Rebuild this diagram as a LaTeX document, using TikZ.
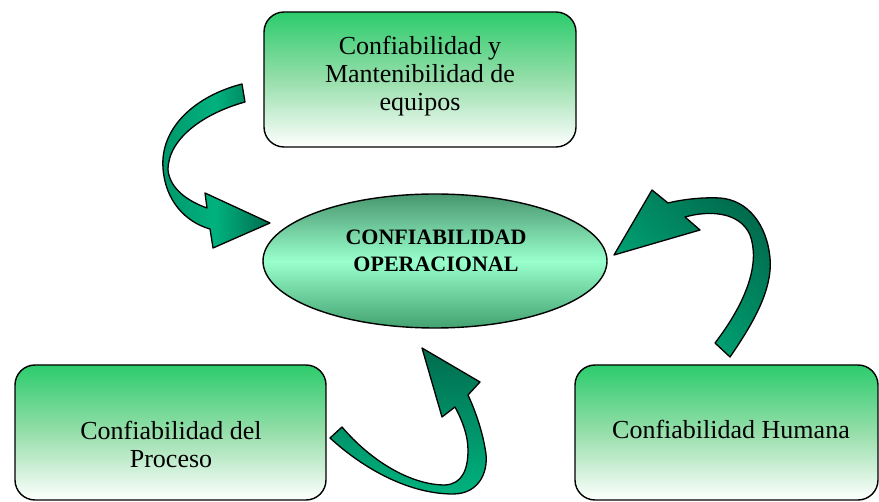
\documentclass[tikz,border=0pt]{standalone}
\usepackage{fontspec}
\setmainfont{Liberation Serif}
\usetikzlibrary{shapes.geometric}
\definecolor{boxgreen}{RGB}{44,204,108}
\definecolor{boxmid}{RGB}{150,222,170}
\definecolor{elltop}{RGB}{72,150,110}
\definecolor{ellbot}{RGB}{66,162,112}
\definecolor{ellmid}{RGB}{153,255,204}
\definecolor{arrlight}{RGB}{0,178,126}
\definecolor{arrmid}{RGB}{0,150,106}
\definecolor{arrdark}{RGB}{0,108,78}
\begin{document}
\begin{tikzpicture}[x=1pt,y=-1pt,
  box/.style={draw=black, line width=1.4pt, rounded corners=20pt,
    top color=boxgreen, bottom color=white, middle color=boxmid, inner sep=0pt},
  lbl/.style={align=center, font=\fontsize{26}{28}\selectfont, inner sep=0pt},
  blockarrow/.style={draw=black, line width=1.3pt, line join=round}]
\useasboundingbox (0,0) rectangle (879,502);

% boxes
\node[box, minimum width=312pt, minimum height=135pt] (tb) at (420,79.5) {};
\node[box, minimum width=311pt, minimum height=135pt] (bl) at (170.5,432.5) {};
\node[box, minimum width=303pt, minimum height=135pt] (br) at (726.5,432.5) {};

% central ellipse
\node[ellipse, draw=black, line width=1.4pt, inner sep=0pt,
  minimum width=344pt, minimum height=134pt,
  top color=elltop, bottom color=ellbot, middle color=ellmid] (co) at (435,261) {};

% texts
\node[lbl] (tbt) at (420,75.7) {Confiabilidad y\\Mantenibilidad de\\equipos};
\node[lbl] (blt) at (171,444.5) {Confiabilidad del\\Proceso};
\node[lbl] (brt) at (731,429) {Confiabilidad Humana};
\node[align=center, inner sep=0pt, font=\fontsize{22}{27}\selectfont\bfseries] (cot)
  at (436,251) {CONFIABILIDAD\\OPERACIONAL};

% block arrow 1 (top box -> ellipse)
\path[blockarrow, left color=arrmid, right color=arrdark, middle color=arrlight]
  (242,84) .. controls (195,96) and (160,128) .. (163,168)
  .. controls (165,200) and (185,222) .. (210,229)
  -- (213,248) -- (270,223) -- (205,193) -- (207,208)
  .. controls (190,202) and (170,190) .. (168,170)
  .. controls (168,138) and (205,113) .. (245,102) -- cycle;

% block arrow 2 (right box -> ellipse)
\path[blockarrow, top color=arrdark, bottom color=arrlight, shading angle=-45]
  (730,357) .. controls (752,325) and (773,290) .. (770,258)
  .. controls (767,225) and (748,200) .. (720,198)
  .. controls (700,197) and (680,200) .. (668,203)
  -- (652,190) -- (614,255) -- (700,230) -- (685,217)
  .. controls (710,210) and (740,212) .. (750,235)
  .. controls (760,262) and (748,300) .. (715,343) -- cycle;

% block arrow 3 (left box -> ellipse)
\path[blockarrow, top color=arrdark, bottom color=arrlight]
  (330,438) .. controls (365,470) and (410,494) .. (453,494)
  .. controls (480,494) and (490,470) .. (485,448)
  .. controls (482,430) and (475,410) .. (468,395)
  -- (480,382) -- (422,348) -- (442,417) -- (455,407)
  .. controls (462,420) and (468,435) .. (468,450)
  .. controls (468,470) and (462,484) .. (445,485)
  .. controls (410,485) and (370,460) .. (342,427) -- cycle;
\end{tikzpicture}
\end{document}
